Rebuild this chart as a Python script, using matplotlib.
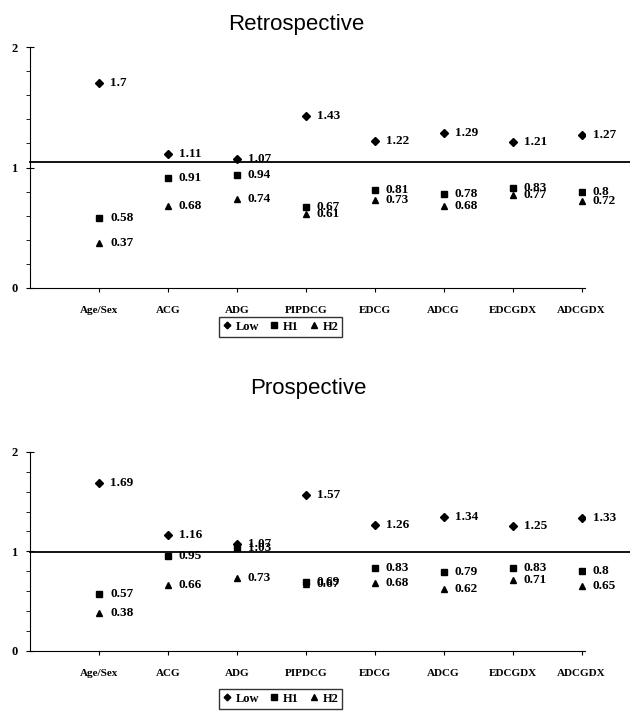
import matplotlib
matplotlib.use("Agg")
import matplotlib.pyplot as plt

# ---------------- data ----------------
categories = ["Age/Sex", "ACG", "ADG", "PIPDCG", "EDCG", "ADCG", "EDCGDX", "ADCGDX"]

retro_low = [1.7, 1.11, 1.07, 1.43, 1.22, 1.29, 1.21, 1.27]
retro_h1 = [0.58, 0.91, 0.94, 0.67, 0.81, 0.78, 0.83, 0.8]
retro_h2 = [0.37, 0.68, 0.74, 0.61, 0.73, 0.68, 0.77, 0.72]

pro_low = [1.69, 1.16, 1.07, 1.57, 1.26, 1.34, 1.25, 1.33]
pro_h1 = [0.57, 0.95, 1.03, 0.69, 0.83, 0.79, 0.83, 0.8]
pro_h2 = [0.38, 0.66, 0.73, 0.67, 0.68, 0.62, 0.71, 0.65]

retro_ref = 1.05
pro_ref = 0.99

serif = "Liberation Serif"
sans = "Liberation Sans"

fig = plt.figure(figsize=(6.3, 7.16), dpi=100)


def draw_panel(rect, title, low, h1, h2, ref, title_x, title_y, legend_y):
    ax = fig.add_axes(rect)
    x = list(range(len(categories)))

    ax.plot(x, low, linestyle="none", marker="D", markersize=4, color="black", label="Low")
    ax.plot(x, h1, linestyle="none", marker="s", markersize=5, color="black", label="H1")
    ax.plot(x, h2, linestyle="none", marker="^", markersize=5, color="black", label="H2")

    for series in (low, h1, h2):
        for xi, v in zip(x, series):
            ax.annotate(f"{v:g}", (xi, v), xytext=(8, 0), textcoords="offset points",
                        va="center", ha="left", fontsize=9.5, fontweight="bold",
                        family=serif)

    # reference line runs beyond the axis to the page edge
    ax.plot([-1, 7.75], [ref, ref], color="black", linewidth=1.3, clip_on=False)

    ax.set_xlim(-1, 7.05)
    ax.set_ylim(0, 2)
    ax.set_yticks([0, 1, 2])
    ax.set_yticks([0.2, 0.4, 0.6, 0.8, 1.2, 1.4, 1.6, 1.8], minor=True)
    ax.set_xticks(x)
    ax.set_xticklabels(categories)

    for lab in ax.get_xticklabels() + ax.get_yticklabels():
        lab.set_family(serif)
        lab.set_fontweight("bold")
    for lab in ax.get_xticklabels():
        lab.set_fontsize(8)
    for lab in ax.get_yticklabels():
        lab.set_fontsize(9)

    ax.tick_params(axis="x", length=3, pad=10, direction="out")
    ax.tick_params(axis="y", which="major", length=6, pad=6, direction="inout")
    ax.tick_params(axis="y", which="minor", length=3)

    ax.spines["top"].set_visible(False)
    ax.spines["right"].set_visible(False)

    fig.text(title_x, title_y, title, ha="center", va="center", fontsize=16, family=sans)

    leg = ax.legend(loc="center", bbox_to_anchor=(0.452, legend_y), ncol=3,
                    frameon=True, fancybox=False, edgecolor="black",
                    handlelength=0.6, handletextpad=0.4, columnspacing=0.9,
                    borderpad=0.3, markerscale=0.85,
                    prop={"family": serif, "weight": "bold", "size": 9})
    leg.get_frame().set_linewidth(1.0)
    return ax


draw_panel([0.0476, 0.598, 0.881, 0.336], "Retrospective",
           retro_low, retro_h1, retro_h2, retro_ref, 0.47, 0.966, -0.162)
draw_panel([0.0476, 0.091, 0.881, 0.278], "Prospective",
           pro_low, pro_h1, pro_h2, pro_ref, 0.49, 0.458, -0.241)

fig.savefig("out.png", dpi=100, facecolor="white")
